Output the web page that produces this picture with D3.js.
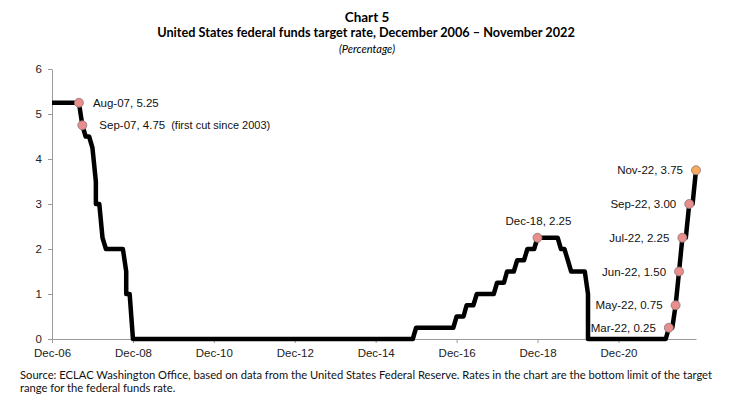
<!DOCTYPE html>
<html>
<head>
<meta charset="utf-8">
<script src="https://cdn.jsdelivr.net/npm/d3@7"></script>
<style>
  body { margin: 0; background: #fff; }
  svg { display: block; }
</style>
</head>
<body>
<svg id="chart"></svg>
<script>
// monthly target rate (bottom of range), Dec-06 .. Nov-22
// a pair means two moves inside the same month
const startMonth = new Date(Date.UTC(2006, 11, 1))
const rate = [
  5.25,
  5.25, 5.25, 5.25, 5.25, 5.25, 5.25, 5.25, 5.25, 4.75, 4.5, 4.5, 4.25,
  [3.5, 3.0], 3.0, 2.25, 2.0, 2.0, 2.0, 2.0, 2.0, 2.0, [1.5, 1.0], 1.0, 0,
  0, 0, 0, 0, 0, 0, 0, 0, 0, 0, 0, 0,
  0, 0, 0, 0, 0, 0, 0, 0, 0, 0, 0, 0,
  0, 0, 0, 0, 0, 0, 0, 0, 0, 0, 0, 0,
  0, 0, 0, 0, 0, 0, 0, 0, 0, 0, 0, 0,
  0, 0, 0, 0, 0, 0, 0, 0, 0, 0, 0, 0,
  0, 0, 0, 0, 0, 0, 0, 0, 0, 0, 0, 0,
  0, 0, 0, 0, 0, 0, 0, 0, 0, 0, 0, 0.25,
  0.25, 0.25, 0.25, 0.25, 0.25, 0.25, 0.25, 0.25, 0.25, 0.25, 0.25, 0.5,
  0.5, 0.5, 0.75, 0.75, 0.75, 1.0, 1.0, 1.0, 1.0, 1.0, 1.0, 1.25,
  1.25, 1.25, 1.5, 1.5, 1.5, 1.75, 1.75, 1.75, 2.0, 2.0, 2.0, 2.25,
  2.25, 2.25, 2.25, 2.25, 2.25, 2.25, 2.0, 2.0, 1.75, 1.5, 1.5, 1.5,
  1.5, 1.5, [1.0, 0], 0, 0, 0, 0, 0, 0, 0, 0, 0,
  0, 0, 0, 0, 0, 0, 0, 0, 0, 0, 0, 0,
  0, 0, 0.25, 0.25, 0.75, 1.5, 2.25, 2.25, 3.0, 3.0, 3.75
]

const yTicks = [0, 1, 2, 3, 4, 5, 6]
const xTickYears = [2006, 2008, 2010, 2012, 2014, 2016, 2018, 2020]

// highlighted months
const earlyNotes = ['Aug-07', 'Sep-07']
const peakNotes = ['Dec-18']
const hikeNotes = ['Mar-22', 'May-22', 'Jun-22', 'Jul-22', 'Sep-22']
const latestNote = 'Nov-22'
const sideNote = { month: 'Sep-07', text: '(first cut since 2003)' }

const titleLines = ['Chart 5', 'United States federal funds target rate, December 2006 \u2013 November 2022']
const unitLabel = '(Percentage)'
const sourceLines = [
  'Source: ECLAC Washington Office, based on data from the United States Federal Reserve. Rates in the chart are the bottom limit of the target',
  'range for the federal funds rate.'
]

const width = 734
const height = 420
const margin = { top: 69, right: 38, bottom: 81, left: 52 }

const fmt = d3.utcFormat('%b-%y')
const points = []
rate.forEach((v, i) => {
  const date = d3.utcMonth.offset(startMonth, i)
  const vals = Array.isArray(v) ? v : [v]
  vals.forEach(value => points.push({ date, value, label: fmt(date) }))
})
const lastOf = label => points.filter(p => p.label === label).pop()

const svg = d3.select('#chart').attr('width', width).attr('height', height)

const x = d3
  .scaleUtc()
  .domain(d3.extent(points, d => d.date))
  .range([margin.left, width - margin.right])

const y = d3
  .scaleLinear()
  .domain([0, 6])
  .range([height - margin.bottom, margin.top])

const titleFont = 'Lato, "Open Sans", sans-serif'
const chartFont = '"Liberation Sans", Arial, sans-serif'

// titles
svg.append('text')
  .attr('x', 367).attr('y', 21.5)
  .attr('text-anchor', 'middle')
  .attr('font-family', titleFont).attr('font-weight', 'bold').attr('font-size', 13.5)
  .text(titleLines[0])
svg.append('text')
  .attr('x', 366).attr('y', 36.5)
  .attr('text-anchor', 'middle')
  .attr('font-family', titleFont).attr('font-weight', 'bold').attr('font-size', 12.7)
  .text(titleLines[1])
svg.append('text')
  .attr('x', 367).attr('y', 52.5)
  .attr('text-anchor', 'middle')
  .attr('font-family', titleFont).attr('font-style', 'italic').attr('font-size', 11)
  .text(unitLabel)

// axes
const xAxis = g =>
  g.attr('transform', `translate(0,${y(0)})`)
    .call(d3.axisBottom(x)
      .tickValues(xTickYears.map(yr => new Date(Date.UTC(yr, 11, 1))))
      .tickFormat(fmt)
      .tickSize(4)
      .tickSizeOuter(0))
    .call(g => g.selectAll('.domain, .tick line').attr('stroke', '#9a9a9a'))
    .call(g => g.selectAll('.tick text')
      .attr('font-family', chartFont).attr('font-size', 11.5).attr('fill', '#222').attr('dy', '0.95em'))

const yAxis = g =>
  g.attr('transform', `translate(${margin.left},0)`)
    .call(d3.axisLeft(y).tickValues(yTicks).tickFormat(d3.format('d')).tickSize(4).tickSizeOuter(0))
    .call(g => g.selectAll('.domain, .tick line').attr('stroke', '#9a9a9a'))
    .call(g => g.selectAll('.tick text')
      .attr('font-family', chartFont).attr('font-size', 11.5).attr('fill', '#222').attr('x', -10))

svg.append('g').call(xAxis)
svg.append('g').call(yAxis)

// line
const line = d3.line().x(d => x(d.date)).y(d => y(d.value))
svg.append('path')
  .datum(points)
  .attr('fill', 'none')
  .attr('stroke', '#000')
  .attr('stroke-width', 4.5)
  .attr('stroke-linejoin', 'round')
  .attr('d', line)

const noteText = p => `${p.label}, ${p.value.toFixed(2)}`

const labelStyle = sel =>
  sel.attr('font-family', chartFont).attr('font-size', 11.5).attr('fill', '#111')

const dot = (p, fill) =>
  svg.append('circle')
    .attr('cx', x(p.date)).attr('cy', y(p.value)).attr('r', 4.5)
    .attr('fill', fill).attr('stroke', '#8d7676').attr('stroke-width', 0.8)

const pink = '#e88e8c'
const orange = '#f6a95f'

earlyNotes.forEach((m, i) => {
  const p = lastOf(m)
  dot(p, pink)
  const t = svg.append('text')
    .attr('x', x(p.date) + 14 + i * 3).attr('y', y(p.value)).attr('dy', '0.35em')
    .call(labelStyle)
  t.append('tspan').text(noteText(p))
  if (m === sideNote.month) {
    t.append('tspan').attr('dx', 6).attr('font-size', 11).text(sideNote.text)
  }
})

peakNotes.forEach(m => {
  const p = lastOf(m)
  dot(p, pink)
  svg.append('text')
    .attr('x', x(p.date) + 1).attr('y', y(p.value) - 13)
    .attr('text-anchor', 'middle')
    .call(labelStyle)
    .text(noteText(p))
})

hikeNotes.concat([latestNote]).forEach(m => {
  const p = lastOf(m)
  dot(p, m === latestNote ? orange : pink)
  svg.append('text')
    .attr('x', x(p.date) - 13).attr('y', y(p.value)).attr('dy', '0.35em')
    .attr('text-anchor', 'end')
    .call(labelStyle)
    .text(noteText(p))
})

// source
svg.append('g')
  .selectAll('text')
  .data(sourceLines)
  .join('text')
  .attr('x', 20)
  .attr('y', (d, i) => 378.5 + i * 13.5)
  .attr('font-family', titleFont).attr('font-size', 11.2).attr('fill', '#111')
  .text(d => d)
</script>
</body>
</html>
